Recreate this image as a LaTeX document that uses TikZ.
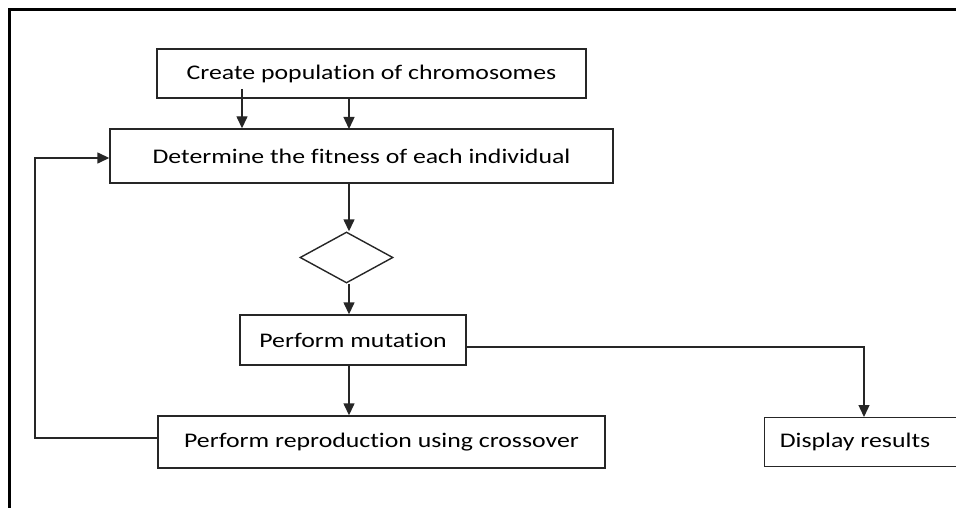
\documentclass[tikz,border=0pt]{standalone}
\usepackage{fontspec}
\setmainfont{Carlito}[Ligatures=NoCommon, FakeStretch=1.24]
\usetikzlibrary{arrows.meta,shapes.geometric}
\begin{document}
\begin{tikzpicture}[x=1pt,y=-1pt,
  box/.style={draw=black!85, line width=1.4pt, inner sep=0pt, font=\fontsize{20.8}{24}\selectfont},
  arr/.style={draw=black!85, line width=1.4pt, -{Triangle[width=11pt,length=12pt]}},
  ln/.style={draw=black!85, line width=1.4pt}]
\useasboundingbox (0,0) rectangle (956,508);
\draw[line width=3pt] (9,510) -- (9,10) -- (960,10);
\node[box, minimum width=429pt, minimum height=49pt] (create) at (371.5,73.5) {Create population of chromosomes};
\node[box, minimum width=503pt, minimum height=54pt] (fit) at (361.5,156) {Determine the fitness of each individual};
\node[draw=black!85, line width=1.4pt, diamond, aspect=1.8, minimum width=93pt, minimum height=51pt, inner sep=0pt] (dec) at (346.5,257.5) {};
\node[box, minimum width=226pt, minimum height=50pt] (mut) at (353,340) {Perform mutation};
\node[box, minimum width=447pt, minimum height=52pt] (rep) at (381.5,442) {Perform reproduction using crossover};
\node[box, minimum width=193pt, minimum height=49pt, anchor=north west] (disp) at (764,417) {};
\node[font=\fontsize{20.8}{24}\selectfont] (disptext) at (855,441.5) {Display results};
\coordinate (c1) at (242,89);
\draw[arr] (c1) -- (c1 |- fit.north);
\draw[arr] (349,98) -- (349,129);
\draw[arr] (fit.south -| 349,0) -- (dec.north -| 349,0);
\draw[arr] (dec.south -| 349,0) -- (mut.north -| 349,0);
\draw[arr] (mut.south -| 349,0) -- (rep.north -| 349,0);
\coordinate (fb1) at (35,438);
\coordinate (fb2) at (35,158);
\draw[arr] (rep.west |- fb1) -- (fb1) -- (fb2) -- (fit.west |- fb2);
\coordinate (d1) at (864,347);
\draw[arr] (mut.east |- d1) -- (d1) -- (d1 |- disp.north);
\end{tikzpicture}
\end{document}
